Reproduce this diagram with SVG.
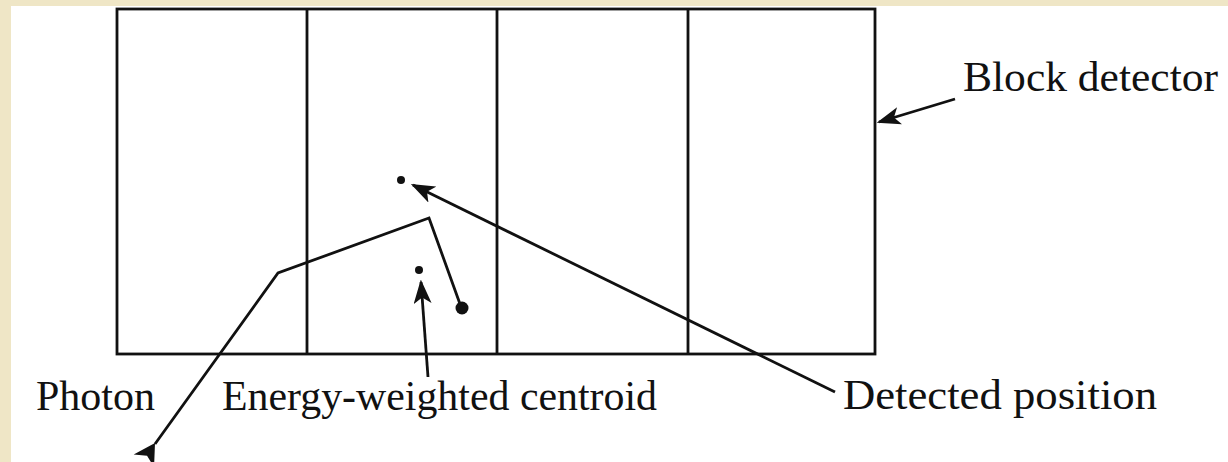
<svg xmlns="http://www.w3.org/2000/svg" width="1228" height="462" viewBox="0 0 1228 462">
  <defs>
    <style>
      .frame { fill: none; stroke: #111; stroke-width: 2.8; }
      .ln { fill: none; stroke: #111; stroke-width: 2.8; stroke-linejoin: miter; }
      .lbl { font-family: "Liberation Serif", "Times New Roman", serif; font-size: 42px; fill: #111; }
      .dot { fill: #111; }
    </style>
    <marker id="arrL" viewBox="0 0 10 10" refX="9" refY="5" markerWidth="24" markerHeight="18" markerUnits="userSpaceOnUse" orient="auto" preserveAspectRatio="none">
      <path d="M0,0 L10,5 L0,10 L2.5,5 Z" fill="#111"/>
    </marker>
  </defs>
  <rect x="0" y="0" width="1228" height="462" fill="#efe6c6"/>
  <rect x="11" y="6" width="1217" height="456" fill="#ffffff"/>

  <g id="block-detector">
    <rect class="frame" x="117" y="9" width="758" height="345"/>
    <line class="frame" x1="307" y1="9" x2="307" y2="354"/>
    <line class="frame" x1="497" y1="9" x2="497" y2="354"/>
    <line class="frame" x1="688" y1="9" x2="688" y2="354"/>
  </g>

  <g id="detected-dot"><circle class="dot" cx="401" cy="180" r="4"/></g>
  <g id="centroid-dot"><circle class="dot" cx="419" cy="270" r="4"/></g>
  <g id="interaction-dot"><circle class="dot" cx="462" cy="308" r="6.5"/></g>

  <g id="connectors">
    <polyline class="ln" points="155,444 278,273 429,218 460,304"/>
    <path d="M0,0 L-12,21 L0,15 L12,21 Z" fill="#111" transform="translate(155 443) rotate(32)"/>
    <line class="ln" x1="835" y1="392" x2="413" y2="185" marker-end="url(#arrL)"/>
    <line class="ln" x1="428" y1="377" x2="421" y2="282" marker-end="url(#arrL)"/>
    <line class="ln" x1="955" y1="99" x2="879" y2="122" marker-end="url(#arrL)"/>
  </g>

  <g id="labels">
    <text class="lbl" x="963" y="91" textLength="255" lengthAdjust="spacingAndGlyphs">Block detector</text>
    <text class="lbl" x="36" y="410" textLength="119" lengthAdjust="spacingAndGlyphs">Photon</text>
    <text class="lbl" x="222" y="410" textLength="435" lengthAdjust="spacingAndGlyphs">Energy-weighted centroid</text>
    <text class="lbl" x="843" y="409" textLength="314" lengthAdjust="spacingAndGlyphs">Detected position</text>
  </g>
</svg>
